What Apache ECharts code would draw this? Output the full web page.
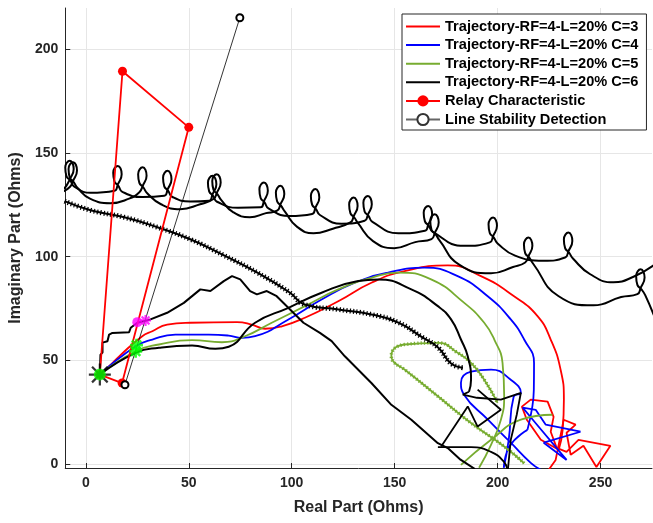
<!DOCTYPE html>
<html>
<head>
<meta charset="utf-8">
<script src="https://cdn.jsdelivr.net/npm/echarts@6/dist/echarts.min.js"></script>
<style>
html, body { margin: 0; padding: 0; background: #fff; }
#chart { width: 653px; height: 523px; }
</style>
</head>
<body>
<div id="chart"></div>
<script>
// ticks
var xTicks = [0, 50, 100, 150, 200, 250];
var yTicks = [0, 50, 100, 150, 200];

var legendNames = [
    'Trajectory-RF=4-L=20% C=3',
    'Trajectory-RF=4-L=20% C=4',
    'Trajectory-RF=4-L=20% C=5',
    'Trajectory-RF=4-L=20% C=6',
    'Relay Characteristic',
    'Line Stability Detection'
];

// C=3 (red)
var c3Arc = [[6.8,43.1],[11.3,47.1],[16.2,51.9],[27.4,61.6],[32.3,64.0],[39.5,67.2],[50.8,68.1],[73.4,68.4],[80.6,67.2],[87.1,65.2],[95.2,66.4],[106.4,70.5],[122.6,78.5],[138.7,87.4],[154.8,93.0],[175.8,95.8],[191.9,90.6],[208.0,80.9],[219.4,71.3],[225.8,60.0],[230.6,45.5],[232.2,31.0],[231.6,16.4],[229.7,6.8]];
var c3Tangle = [[229.7,6.8],[221.0,11.6],[214.2,21.3],[211.8,27.6],[216.1,31.0],[224.3,30.0],[227.2,22.7],[225.8,15.5],[228.7,7.7],[233.5,5.8],[239.3,11.6],[254.8,8.7],[248.0,-1.5],[241.7,8.7],[235.5,4.4],[233.5,15.0],[237.9,18.9],[232.1,21.3],[228.2,1.9],[224.8,-2.9]];

// C=4 (blue)
var c4Arc = [[6.8,43.1],[24.2,56.7],[32.3,60.0],[43.5,62.4],[59.7,62.4],[69.4,61.9],[75.8,60.8],[82.2,61.6],[98.4,69.7],[114.5,79.3],[130.6,87.4],[146.8,92.3],[164.5,94.7],[180.6,90.6],[195.2,80.9],[206.4,69.7],[212.9,60.0],[217.7,48.7],[217.6,35.8],[216.9,27.7],[214.5,16.4]];
var c4Loop = [[214.5,16.4],[206.0,8.7],[203.0,-1.9],[205.4,11.6],[207.8,32.4],[211.3,34.3],[206.4,40.6],[196.8,45.5],[187.1,44.5],[182.2,39.2],[183.7,33.4],[195.3,21.3],[206.4,10.2],[216.1,0.5],[221.0,-2.9]];
var c4Star = [[240.3,15.5],[222.4,10.2],[233.5,1.9],[217.1,21.3],[212.2,27.1],[218.5,26.1],[223.4,18.9],[240.3,15.5]];

// C=5 (green)
var c5Arc = [[6.8,43.1],[24.2,54.3],[35.5,57.6],[51.6,59.7],[66.1,58.7],[77.3,61.6],[90.3,68.1],[106.4,76.1],[122.6,84.2],[138.7,89.8],[151.6,92.3],[167.7,89.0],[183.8,77.7],[193.5,68.1],[198.4,60.0],[202.4,48.7],[203.2,32.6],[201.6,21.3],[196.8,9.2],[191.0,-1.9]];
var c5Loop = [[212.9,0.3],[203.2,8.4],[187.1,19.7],[171.0,32.6],[154.8,45.5],[149.4,49.3],[148.4,52.3],[154.8,57.6],[171.0,58.4],[180.6,53.6],[187.1,48.7],[193.5,40.6],[200.0,29.4]];
var c5Arc2 = [[182.2,-0.5],[196.8,11.6],[211.3,21.3],[226.6,23.7]];

// C=6 (black) - looped curves
var c6LoopsA = [[-11,132.5],
    [-9.4,134.3],[-7.8,137.3],[-5.9,142.3],[-7.8,146.3],[-10.0,143.0],[-9.4,138.8],[-7.5,136.7],[-5.6,133.8],
    [2.3,130.8],
    [13.9,131.8],[15.5,134.8],[17.4,139.8],[15.5,143.8],[13.3,140.5],[13.9,136.3],[15.8,134.2],[17.7,131.3],
    [27.4,128.8],
    [38.1,129.4],[39.7,132.4],[41.6,137.4],[39.7,141.4],[37.5,138.1],[38.1,133.9],[40.0,131.8],[41.9,128.9],
    [50.7,126.6],
    [59.9,127.0],[61.5,130.0],[63.4,135.0],[61.5,139.0],[59.3,135.7],[59.9,131.5],[61.8,129.4],[63.7,126.5],
    [73.9,123.6],
    [84.9,123.8],[86.5,126.8],[88.4,131.8],[86.5,135.8],[84.3,132.5],[84.9,128.3],[86.8,126.2],[88.7,123.3],
    [99.0,119.6],
    [109.9,120.6],[111.5,123.6],[113.4,128.6],[111.5,132.6],[109.3,129.3],[109.9,125.1],[111.8,123.0],[113.7,120.1],
    [124.2,115.9],
    [135.4,117.3],[137.0,120.3],[138.9,125.3],[137.0,129.3],[134.8,126.0],[135.4,121.8],[137.3,119.7],[139.2,116.8],
    [151.8,111.3],
    [164.7,112.5],[166.3,115.5],[168.2,120.5],[166.3,124.5],[164.1,121.2],[164.7,117.0],[166.6,114.9],[168.5,112.0],
    [183.7,105.2],
    [196.2,106.9],[197.8,109.9],[199.7,114.9],[197.8,118.9],[195.6,115.6],[196.2,111.4],[198.1,109.3],[200.0,106.4],
    [208.5,100.5],[222.4,98.0],
    [232.8,99.6],[234.4,102.6],[236.3,107.6],[234.4,111.6],[232.2,108.3],[232.8,104.1],[234.7,102.0],[236.6,99.1],
    [245.0,91.5],[256.3,87.6],[266.0,90.3],[276.0,96.0]];
var c6LoopsB = [[-11,131.5],
    [-7.8,133.6],[-6.2,136.6],[-4.3,141.6],[-6.2,145.6],[-8.4,142.3],[-7.8,138.1],[-5.9,136.0],[-4.0,133.1],
    [2.0,128.0],[11.9,125.8],[21.0,128.0],
    [26.0,131.1],[27.6,134.1],[29.5,139.1],[27.6,143.1],[25.4,139.8],[26.0,135.6],[27.9,133.5],[29.8,130.6],
    [36.5,125.3],[45.8,122.9],[55.5,125.3],
    [62.0,127.8],[63.6,130.8],[65.5,135.8],[63.6,139.8],[61.4,136.5],[62.0,132.3],[63.9,130.2],[65.8,127.3],
    [71.5,121.5],[79.7,119.0],[87.5,121.0],
    [92.9,122.2],[94.5,125.2],[96.4,130.2],[94.5,134.2],[92.3,130.9],[92.9,126.7],[94.8,124.6],[96.7,121.7],
    [102.5,114.5],[110.6,111.3],[120.0,113.5],
    [128.5,116.5],[130.1,119.5],[132.0,124.5],[130.1,128.5],[127.9,125.2],[128.5,121.0],[130.4,118.9],[132.3,116.0],
    [139.5,107.5],[149.8,104.1],[160.0,107.0],
    [167.9,108.5],[169.5,111.5],[171.4,116.5],[169.5,120.5],[167.3,117.2],[167.9,113.0],[169.8,110.9],[171.7,108.0],
    [181.5,96.0],[196.8,92.0],[207.5,95.0],
    [213.4,97.2],[215.0,100.2],[216.9,105.2],[215.0,109.2],[212.8,105.9],[213.4,101.7],[215.3,99.6],[217.2,96.7],
    [229.5,81.0],[246.6,76.5],[260.0,80.5],
    [267.9,81.9],[269.5,84.9],[271.4,89.9],[269.5,93.9],[267.3,90.6],[267.9,86.4],[269.8,84.3],[271.7,81.4],
    [277.0,69.0]];
var c6Ripple = [[-10.3,126.8],[2.3,122.4],[18.7,119.0],[34.7,114.2],[50.7,108.4],[67.1,100.6],[83.1,92.4],[99.0,82.7],[106.3,76.9],[122.7,74.5],[138.7,72.1],[151.8,68.2],[162.9,61.4],[171.1,56.1],[177.4,48.4],[183.2,46.4]];
var c6Jagged = [[6.8,43.1],[7.1,52.7],[8.1,53.7],[8.1,58.5],[10.5,59.2],[11.3,62.4],[12.9,63.2],[21.0,63.5],[21.8,65.7],[25.0,68.1],[31.4,69.7],[39.5,72.9],[47.6,77.7],[55.6,84.2],[60.5,83.4],[67.0,88.2],[71.0,90.6],[75.0,89.0],[79.8,83.4],[83.1,81.8],[87.9,83.4],[92.7,80.9],[99.2,74.5],[105.7,68.1],[113.7,63.2],[119.4,59.2],[125.8,51.9],[138.7,39.0],[148.4,28.5],[158.1,21.3],[171.0,10.0],[175.8,7.6],[182.0,2.0],[189.0,-2.5]];
var c6Arc = [[6.8,43.1],[24.2,53.6],[35.5,56.0],[51.6,57.1],[62.9,55.5],[69.4,56.5],[82.2,68.1],[98.4,75.3],[114.5,82.6],[132.3,88.2],[141.9,89.0],[158.1,84.2],[171.0,76.1],[177.4,69.7],[182.2,60.0],[185.5,51.9],[187.1,40.6],[186.1,34.8]];
var c6Quad = [[186.1,34.8],[183.1,33.4],[190.0,31.9],[201.6,31.0],[211.3,34.3],[209.3,23.7],[206.4,11.6],[205.0,-2.9]];
var c6Cross = [[190.3,35.8],[201.6,26.1],[190.3,18.0],[185.5,27.7],[172.6,8.4]];
var c6Bottom = [[171.0,8.1],[187.1,8.1],[196.8,5.8],[203.1,1.0],[204.8,-2.9]];

// relay / stability
var relayPoints = [[6.8,43.1],[17.6,39.0],[50.0,162.4],[17.8,189.5],[6.8,43.1]];
var stabilityPoints = [[19.0,38.2],[74.8,215.3]];

// markers
var startPoint = [[6.8,43.1]];
var greenStars = [[24.2,54.3],[24.6,57.3]];
var magentaDot = [[25.0,68.4]];
var magentaStar = [[29.0,69.2]];

var FONT = '"Liberation Sans", Arial, Helvetica, sans-serif';
var RED = '#ff0000', BLUE = '#0000ff', GREEN = '#77ac30', BLACK = '#000000';
var STAR_THIN = 'path://M9,0H11V20H9Z M0,9H20V11H0Z M2.2,3.6L3.6,2.2L17.8,16.4L16.4,17.8Z M16.4,2.2L17.8,3.6L3.6,17.8L2.2,16.4Z';
var STAR_THICK = 'path://M8,0H12V20H8Z M0,8H20V12H0Z M1.5,4.3L4.3,1.5L18.5,15.7L15.7,18.5Z M15.7,1.5L18.5,4.3L4.3,18.5L1.5,15.7Z';

var traj = function(name, data, color, smooth, width) {
    return {
        name: name,
        type: 'line',
        data: data,
        smooth: smooth ? 0.5 : false,
        symbol: 'none',
        lineStyle: { color: color, width: width || 1.8 },
        itemStyle: { color: color },
        silent: true
    };
};

// comb overlay that imitates the small ripples of a trajectory
var ripple = function(data, color, width) {
    return {
        type: 'line', data: data, smooth: 0.5, symbol: 'none', silent: true,
        lineStyle: { color: color, width: width, type: [1.2, 2.2] }
    };
};

var marker = function(data, symbol, size, color, z) {
    return {
        type: 'scatter',
        data: data,
        symbol: symbol,
        symbolSize: size,
        itemStyle: { color: color },
        z: z,
        silent: true
    };
};

var series = [
    traj(legendNames[0], c3Arc, RED, true),
    traj(legendNames[0], c3Tangle, RED, false),
    traj(legendNames[1], c4Arc, BLUE, true),
    traj(legendNames[1], c4Loop, BLUE, true),
    traj(legendNames[1], c4Star, BLUE, false),
    traj(legendNames[2], c5Arc, GREEN, true),
    traj(legendNames[2], c5Loop, GREEN, true),
    ripple(c5Loop, GREEN, 3.5),
    traj(legendNames[2], c5Arc2, GREEN, true),
    traj(legendNames[3], c6LoopsA, BLACK, true, 2),
    traj(legendNames[3], c6LoopsB, BLACK, true, 2),
    traj(legendNames[3], c6Ripple, BLACK, true, 2),
    ripple(c6Ripple, BLACK, 5),
    traj(legendNames[3], c6Jagged, BLACK, false, 2),
    traj(legendNames[3], c6Arc, BLACK, true, 2),
    traj(legendNames[3], c6Quad, BLACK, false),
    traj(legendNames[3], c6Cross, BLACK, false),
    traj(legendNames[3], c6Bottom, BLACK, true),
    {
        name: legendNames[4],
        type: 'line',
        data: relayPoints,
        symbol: 'circle',
        symbolSize: 9,
        showAllSymbol: true,
        lineStyle: { color: RED, width: 1.8 },
        itemStyle: { color: RED },
        silent: true
    },
    {
        name: legendNames[5],
        type: 'line',
        data: stabilityPoints,
        symbol: 'emptyCircle',
        symbolSize: 7,
        lineStyle: { color: BLACK, width: 0.8 },
        itemStyle: { color: BLACK, borderWidth: 0.8 },
        silent: true
    },
    marker(startPoint, STAR_THIN, 22, BLACK, 5),
    marker(startPoint, 'circle', 12, '#00ff00', 6),
    marker(greenStars, STAR_THICK, 13, '#00ff00', 6),
    marker(magentaDot, 'circle', 10, '#ff00ff', 6),
    marker(magentaStar, STAR_THICK, 11, '#ff00ff', 6)
];

var noSymbol = { opacity: 0 };

var option = {
    animation: false,
    backgroundColor: '#fff',
    textStyle: { fontFamily: FONT },
    grid: { left: 63, right: 1, top: 8, bottom: 55 },
    legend: {
        orient: 'vertical',
        left: 402,
        top: 14,
        padding: [5, 8, 3, 3],
        itemWidth: 34,
        itemHeight: 14,
        itemGap: 3.6,
        backgroundColor: '#fff',
        borderColor: '#262626',
        borderWidth: 1,
        selectedMode: false,
        textStyle: { fontSize: 14.6, fontWeight: 'bold', color: '#000', fontFamily: FONT },
        data: [
            { name: legendNames[0], itemStyle: noSymbol },
            { name: legendNames[1], itemStyle: noSymbol },
            { name: legendNames[2], itemStyle: noSymbol },
            { name: legendNames[3], itemStyle: noSymbol },
            { name: legendNames[4] },
            { name: legendNames[5], lineStyle: { color: '#666', width: 1.8 }, itemStyle: { color: '#333' } }
        ]
    },
    xAxis: {
        type: 'value',
        min: -10,
        max: 275,
        name: 'Real Part (Ohms)',
        nameLocation: 'middle',
        nameGap: 32,
        nameTextStyle: { fontSize: 16, fontWeight: 'bold', color: '#262626', fontFamily: FONT },
        axisLine: { show: true, onZero: false, lineStyle: { color: '#262626', width: 1 } },
        axisTick: { show: true, inside: true, length: 5, customValues: xTicks, lineStyle: { color: '#262626' } },
        axisLabel: { customValues: xTicks, margin: 8, fontSize: 14, fontWeight: 'bold', color: '#262626', fontFamily: FONT },
        splitLine: { show: true, lineStyle: { color: '#e6e6e6', width: 1 } }
    },
    yAxis: {
        type: 'value',
        min: -2,
        max: 220,
        name: 'Imaginary Part (Ohms)',
        nameLocation: 'middle',
        nameGap: 40,
        nameTextStyle: { fontSize: 16, fontWeight: 'bold', color: '#262626', fontFamily: FONT },
        axisLine: { show: true, onZero: false, lineStyle: { color: '#262626', width: 1 } },
        axisTick: { show: true, inside: true, length: 5, customValues: yTicks, lineStyle: { color: '#262626' } },
        axisLabel: { customValues: yTicks, margin: 7, fontSize: 14, fontWeight: 'bold', color: '#262626', fontFamily: FONT },
        splitLine: { show: true, lineStyle: { color: '#e6e6e6', width: 1 } }
    },
    series: series
};

var myChart = echarts.init(document.getElementById('chart'), null, { renderer: 'canvas' });
myChart.setOption(option);
</script>
</body>
</html>
